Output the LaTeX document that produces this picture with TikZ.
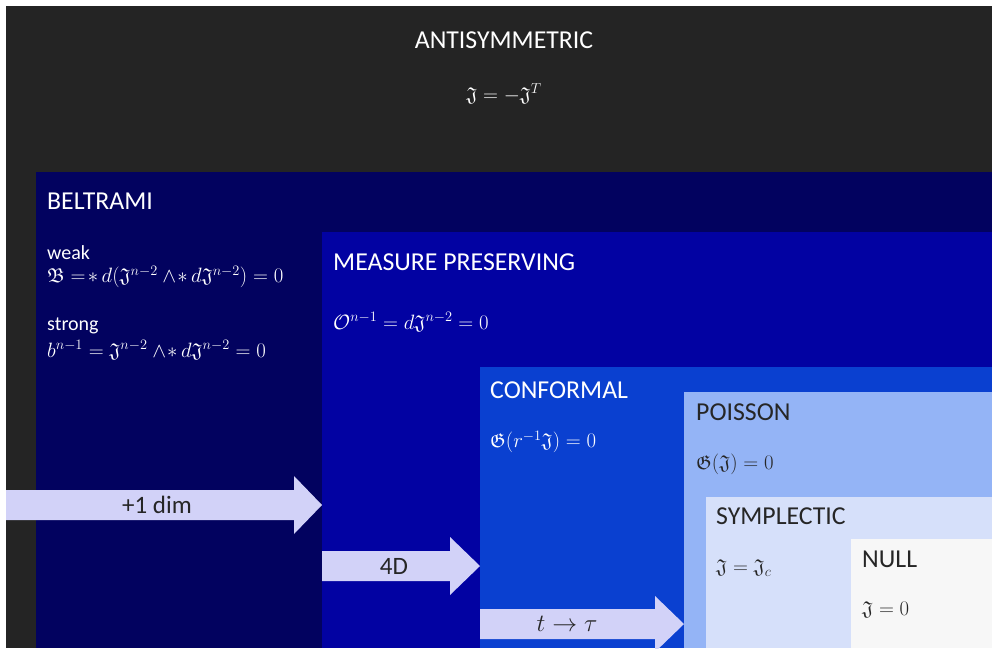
\documentclass[tikz,border=0pt]{standalone}
\usepackage{amssymb}
\usepackage{fontspec}
\setmainfont{Carlito}
\usetikzlibrary{positioning}
\definecolor{bgdark}{HTML}{242424}
\definecolor{beltc}{HTML}{02025F}
\definecolor{measc}{HTML}{0202A2}
\definecolor{confc}{HTML}{0A40D0}
\definecolor{poisc}{HTML}{94B4F6}
\definecolor{sympc}{HTML}{D6E0FA}
\definecolor{nullc}{HTML}{F7F7F7}
\definecolor{arrc}{HTML}{D2D2F8}
\definecolor{inkdark}{HTML}{262626}
\tikzset{
  head/.style={anchor=west,inner sep=0pt,font=\fontsize{25.8}{29}\selectfont},
  headc/.style={anchor=center,inner sep=0pt,font=\fontsize{25.8}{29}\selectfont},
  formula/.style={anchor=west,inner sep=0pt,font=\fontsize{20}{24}\selectfont},
  formulac/.style={anchor=center,inner sep=0pt,font=\fontsize{20}{24}\selectfont},
  sub/.style={anchor=west,inner sep=0pt,font=\fontsize{20}{24}\selectfont},
  arrlabel/.style={anchor=center,inner sep=0pt,text=inkdark,font=\fontsize{25}{29}\selectfont},
  onlight/.style={text=inkdark},
  ondark/.style={text=white},
}
\begin{document}
\begin{tikzpicture}[x=1pt,y=-1pt]
\useasboundingbox (0,0) rectangle (992,648);
\fill[white] (0,0) rectangle (992,648);
% nested regions
\fill[bgdark] (6,6) rectangle (992,648);
\fill[beltc] (36,172) rectangle (992,648);
\fill[measc] (322,232) rectangle (992,648);
\fill[confc] (480,367) rectangle (992,648);
\fill[poisc] (684,392) rectangle (992,648);
\fill[sympc] (706,497) rectangle (992,648);
\fill[nullc] (851,539) rectangle (992,648);
% texts
\node[headc,ondark] (anti) at (504,40) {ANTISYMMETRIC};
\node[formulac,ondark] (antif) at (504,94) {$\mathfrak{J}=-\mathfrak{J}^T$};
\node[head,ondark] (belt) at (47,201) {BELTRAMI};
\node[sub,ondark] (weak) at (47,253) {weak};
\node[formula,ondark] (weakf) at (47,277) {$\mathfrak{B}=\!*\,d(\mathfrak{J}^{n-2}\wedge\!*\,d\mathfrak{J}^{n-2})=0$};
\node[sub,ondark] (strong) at (47,326) {strong};
\node[formula,ondark] (strongf) at (47,350) {$b^{n-1}=\mathfrak{J}^{n-2}\wedge\!*\,d\mathfrak{J}^{n-2}=0$};
\node[head,ondark] (meas) at (333,262) {MEASURE PRESERVING};
\node[formula,ondark] (measf) at (333,322) {$\mathcal{O}^{n-1}=d\mathfrak{J}^{n-2}=0$};
\node[head,ondark] (conf) at (490,390) {CONFORMAL};
\node[formula,ondark] (conff) at (490,442) {$\mathfrak{G}(r^{-1}\mathfrak{J})=0$};
\node[head,onlight] (pois) at (696,412) {POISSON};
\node[formula,onlight] (poisf) at (696,464) {$\mathfrak{G}(\mathfrak{J})=0$};
\node[head,onlight] (symp) at (716,516) {SYMPLECTIC};
\node[formula,onlight] (sympf) at (716,568) {$\mathfrak{J}=\mathfrak{J}_c$};
\node[head,onlight] (null) at (862,559) {NULL};
\node[formula,onlight] (nullf) at (862,610) {$\mathfrak{J}=0$};
% arrows
\fill[arrc] (6,490) -- (294,490) -- (294,476) -- (322,505) -- (294,534) -- (294,520) -- (6,520) -- cycle;
\node[arrlabel] (a1) at (157,505) {+1 dim};
\fill[arrc] (322,551) -- (450,551) -- (450,537) -- (480,566) -- (450,595) -- (450,581) -- (322,581) -- cycle;
\node[arrlabel] (a2) at (394,566) {4D};
\fill[arrc] (480,609) -- (655,609) -- (655,596) -- (684,624) -- (655,652) -- (655,639) -- (480,639) -- cycle;
\node[arrlabel,font=\fontsize{24}{28}\selectfont] (a3) at (567,624) {$t\to\tau$};
\end{tikzpicture}
\end{document}
